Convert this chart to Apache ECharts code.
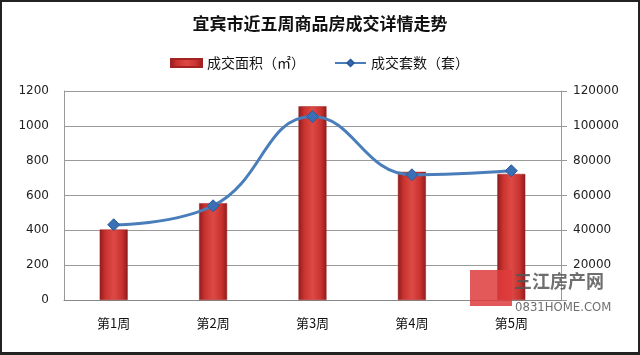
<!DOCTYPE html>
<html><head><meta charset="utf-8">
<script src="https://cdn.jsdelivr.net/npm/echarts@6/dist/echarts.min.js"></script>
<style>html,body{margin:0;padding:0;background:#fff;}#c{width:640px;height:355px;box-sizing:border-box;border:2px solid #222;border-bottom-width:3px;}</style>
</head><body><div id="c"></div>
<script>
const title = '宜宾市近五周商品房成交详情走势';
const categories = ['第1周','第2周','第3周','第4周','第5周'];
const areaName = '成交面积（㎡）';
const countName = '成交套数（套）';
const areaValues = [405, 556, 1112, 736, 724];
const countValues = [43200, 54100, 105300, 71900, 74200];
const leftTicks = {min:0, max:1200, interval:200};
const rightTicks = {min:0, max:120000, interval:20000};

const chart = echarts.init(document.getElementById('c'));
const cjk = '"Noto Sans CJK SC", sans-serif';
const num = 'Verdana, "DejaVu Sans", sans-serif';
chart.setOption({
  animation:false,
  title:{text:title,left:'center',top:8,textStyle:{fontSize:17,fontWeight:'bold',color:'#111',fontFamily:cjk}},
  legend:{top:49,left:163,itemGap:29,itemWidth:31,itemHeight:8,
    textStyle:{fontSize:14,color:'#111',fontFamily:cjk},
    data:[{name:areaName,icon:'rect'},{name:countName}]},
  grid:{left:62,right:77,top:89,bottom:52},
  xAxis:{type:'category',data:categories,
    axisLine:{lineStyle:{color:'#888'}},axisTick:{show:false},
    axisLabel:{fontSize:13,color:'#111',margin:17,fontFamily:cjk}},
  yAxis:[
    {type:'value',min:leftTicks.min,max:leftTicks.max,interval:leftTicks.interval,
      axisLine:{show:true,lineStyle:{color:'#999'}},axisTick:{show:false},
      splitLine:{lineStyle:{color:'#9a9a9a',width:1}},
      axisLabel:{fontSize:12,color:'#222',margin:15,fontFamily:num,formatter:v=>String(v)}},
    {type:'value',min:rightTicks.min,max:rightTicks.max,interval:rightTicks.interval,position:'right',
      axisLine:{show:true,lineStyle:{color:'#999'}},axisTick:{show:true,length:6,lineStyle:{color:'#999'}},
      splitLine:{show:false},
      axisLabel:{fontSize:12,color:'#222',margin:12,fontFamily:num,formatter:v=>v===0?'':String(v)}}
  ],
  series:[
    {name:areaName,type:'bar',data:areaValues,barWidth:28,yAxisIndex:0,
      itemStyle:{color:new echarts.graphic.LinearGradient(0,0,1,0,[
        {offset:0,color:'#8e1c1c'},{offset:0.2,color:'#c8322f'},{offset:0.5,color:'#dd4a45'},
        {offset:0.8,color:'#c8322f'},{offset:1,color:'#8e1c1c'}]),
        borderColor:'#a32222',borderWidth:0.5}},
    {name:countName,type:'line',data:countValues,yAxisIndex:1,smooth:0.45,
      symbol:'diamond',symbolSize:12,
      lineStyle:{color:'#4a7ebb',width:3},
      itemStyle:{color:'#3a6fb5',borderColor:'#2a5a9a',borderWidth:1}}
  ],
  graphic:[
    {type:'rect',left:468,top:268,shape:{width:42,height:36},style:{fill:'rgba(222,60,60,0.85)'},z:100},
    {type:'text',left:512,top:270,style:{text:'三江房产网',fontSize:18,fontWeight:'bold',fill:'rgba(85,85,85,0.85)',fontFamily:cjk},z:100},
    {type:'text',left:513,top:299,style:{text:'0831HOME.COM',fontSize:13,fill:'rgba(85,85,85,0.85)',fontFamily:'"Liberation Sans Narrow", "DejaVu Sans Condensed", sans-serif'},z:100}
  ]
});
</script></body></html>
